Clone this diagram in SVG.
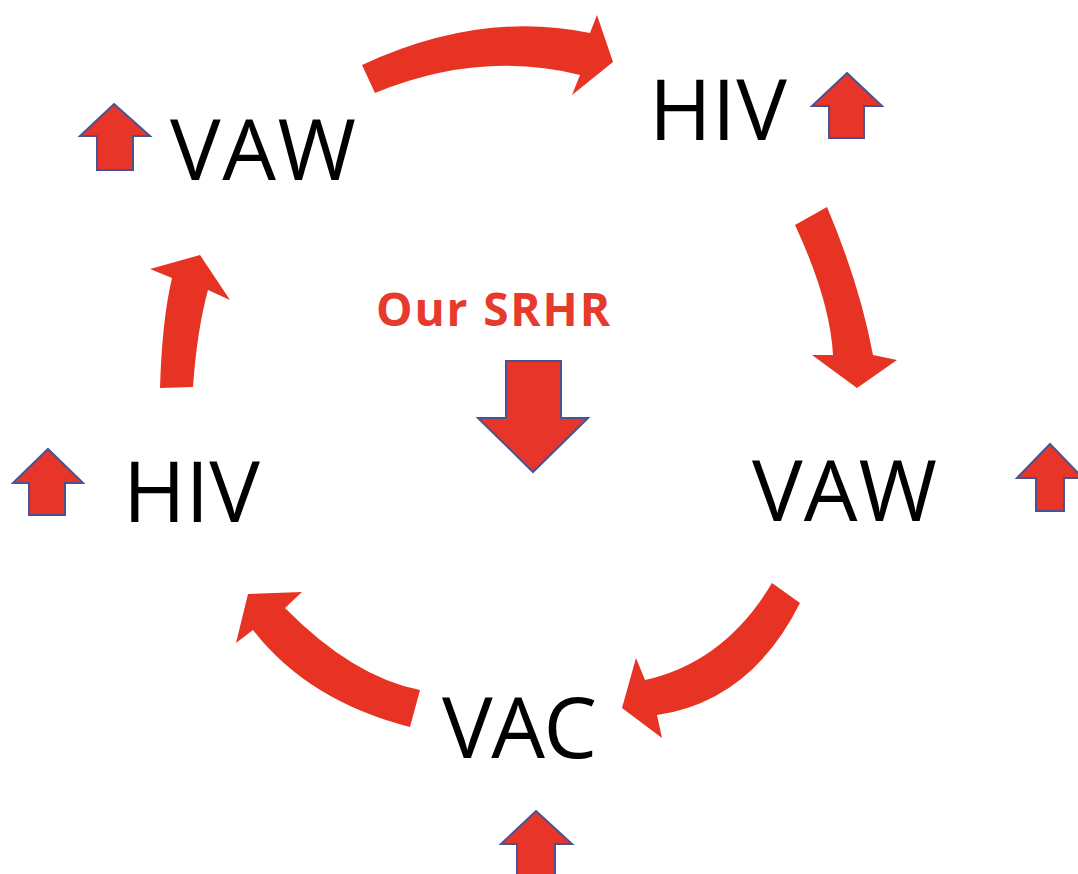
<svg xmlns="http://www.w3.org/2000/svg" width="1078" height="874" viewBox="0 0 1078 874">
<style>
.lbl{font-family:"Open Sans","Liberation Sans",sans-serif;font-size:85px;fill:#000}
.srhr{font-family:"Open Sans","Liberation Sans",sans-serif;font-size:46px;font-weight:bold;fill:#E63A2C}
.curve{fill:#E63323;stroke:none}
.blk{fill:#E8352A;stroke:#4A5391;stroke-width:2;stroke-linejoin:miter}
</style>
<rect width="1078" height="874" fill="#fff"/>
<g id="connectors">
<path class="curve" d="M362,65 Q480,10 590,33 L597,15 L613,62 L572,95 L580,75 Q480,50 375,93 Z"/>
<path class="curve" d="M795,225 L827,207 Q860,285 873,355 L897,360 L857,388 L812,355 L833,355 Q830,300 795,225 Z"/>
<path class="curve" d="M772,583 Q725,662 645,680 L636,658 L622,708 L662,738 L657,715 Q751,701 800,603 Z"/>
<path class="curve" d="M420,690 Q353,677 285,608 L302,592 L248,594 L236,643 L253,630 Q308,701 410,727 Z"/>
<path class="curve" d="M160,388 L193,387 Q197,330 208,290 L230,300 L200,255 L150,269 L172,278 Q162,320 160,388 Z"/>
</g>
<g id="node-vaw-tl">
<text class="lbl" x="170" y="180" textLength="186" lengthAdjust="spacing">VAW</text>
<path class="blk" d="M114,104 L150,136 L133,136 L133,170 L97,170 L97,136 L80,136 Z"/>
</g>
<g id="node-hiv-tr">
<text class="lbl" x="649" y="140" textLength="138" lengthAdjust="spacing">HIV</text>
<path class="blk" d="M847,73 L882,106 L864,106 L864,138 L829,138 L829,106 L812,106 Z"/>
</g>
<g id="node-vaw-r">
<text class="lbl" x="752" y="521" textLength="185" lengthAdjust="spacing">VAW</text>
<path class="blk" d="M1050,444 L1083,478 L1064,478 L1064,511 L1036,511 L1036,478 L1017,478 Z"/>
</g>
<g id="node-vac">
<text class="lbl" x="442" y="758" textLength="155" lengthAdjust="spacing">VAC</text>
<path class="blk" d="M536,811 L572,844 L555,844 L555,880 L517,880 L517,844 L501,844 Z"/>
</g>
<g id="node-hiv-l">
<text class="lbl" x="123" y="522" textLength="137" lengthAdjust="spacing">HIV</text>
<path class="blk" d="M48,449 L83,483 L65,483 L65,515 L29,515 L29,483 L13,483 Z"/>
</g>
<g id="node-srhr">
<text class="srhr" x="376" y="326" textLength="234" lengthAdjust="spacing">Our SRHR</text>
<path class="blk" d="M506,361 L561,361 L561,418 L588,418 L533,472 L478,418 L506,418 Z"/>
</g>
</svg>
